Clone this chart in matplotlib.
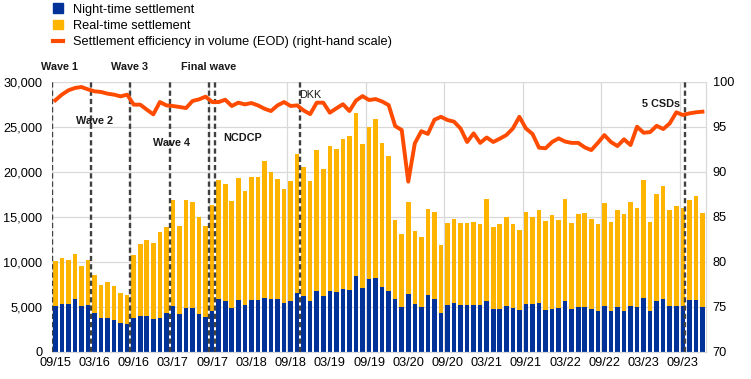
import matplotlib
matplotlib.use("Agg")
import matplotlib.pyplot as plt
import matplotlib.patches as mpatches
from matplotlib.lines import Line2D
import numpy as np
import pandas as pd

plt.rcParams["font.family"] = ["Liberation Sans", "DejaVu Sans"]

# ── data ────────────────────────────────────────────────────────────────────
months = pd.period_range("2015-09", "2023-12", freq="M")
month_labels = [m.strftime("%m/%y") for m in months]

night = [
    5070, 5330, 5300, 5890, 5110, 5220, 4330, 3780, 3780, 3560,
    3220, 3110, 3780, 4000, 4000, 3630, 3740, 4330, 5070, 4190,
    4850, 4850, 4150, 3820, 4520, 5850, 5630, 4850, 5740, 5190,
    5740, 5740, 5960, 5850, 5850, 5410, 5630, 6520, 6190, 5630,
    6740, 6190, 6740, 6630, 6960, 6850, 8410, 7070, 8080, 8190,
    7190, 6740, 5850, 4960, 6410, 5300, 4960, 6300, 5850, 4300,
    5190, 5410, 5190, 5190, 5190, 5190, 5630, 4740, 4740, 5070,
    4850, 4630, 5300, 5300, 5410, 4630, 4740, 4850, 5630, 4740,
    4960, 4960, 4740, 4520, 5070, 4520, 4960, 4520, 5070, 4960,
    5960, 4520, 5630, 5850, 5070, 5070, 5070, 5740, 5740, 4960,
]
realtime = [
    5000, 5110, 4890, 5000, 4450, 5000, 4190, 3670, 4000, 3770,
    3340, 3190, 7000, 7960, 8410, 8480, 9560, 9560, 11780, 9810,
    12000, 11780, 10810, 10150, 11780, 13230, 13000, 11890, 13560, 12660,
    13670, 13670, 15230, 14110, 13340, 12670, 13330, 15450, 14310, 13330,
    15670, 14110, 16110, 15890, 16670, 17110, 18110, 16010, 16880, 17660,
    16000, 15000, 8780, 8110, 10220, 8110, 7780, 9550, 9670, 7550,
    9110, 9330, 9110, 9110, 9220, 9000, 11330, 9110, 9450, 9890,
    9340, 8890, 10220, 9660, 10330, 9890, 10450, 9780, 11330, 9560,
    10340, 10450, 10000, 9670, 11450, 9890, 10780, 10780, 11560, 11000,
    13120, 9890, 11890, 12560, 10670, 11120, 10890, 11110, 11560, 10450,
]
efficiency = [
    97.93, 98.56, 99.04, 99.30, 99.41, 99.15, 98.93, 98.86, 98.67, 98.56,
    98.37, 98.56, 97.45, 97.45, 96.90, 96.37, 97.74, 97.37, 97.30, 97.19,
    97.07, 97.86, 98.04, 98.34, 97.74, 97.74, 98.00, 97.30, 97.67, 97.48,
    97.63, 97.37, 97.00, 96.74, 97.37, 97.74, 97.30, 97.37, 96.80, 96.40,
    97.67, 97.67, 96.56, 97.04, 97.50, 96.74, 97.90, 98.40, 97.96, 98.07,
    97.80, 97.40, 95.07, 94.63, 88.90, 93.15, 94.50, 94.20, 95.77, 96.10,
    95.74, 95.56, 94.80, 93.30, 94.26, 93.20, 93.80, 93.30, 93.67, 94.07,
    94.80, 96.10, 94.80, 94.20, 92.67, 92.60, 93.30, 93.70, 93.35, 93.20,
    93.20, 92.70, 92.40, 93.20, 94.07, 93.30, 92.85, 93.60, 92.96, 95.00,
    94.33, 94.40, 95.10, 94.74, 95.37, 96.60, 96.30, 96.48, 96.60, 96.67,
]

event_labels = ["Wave 1", "Wave 2", "Wave 3", "Wave 4", "Final wave", "NCDCP", "DKK", "5 CSDs"]
event_pos = [-0.45, 5.5, 11.5, 17.5, 23.5, 24.5, 37.5, 96.4]
# label placement (x in category units, y in left-axis units)
label_x = [0.6, 5.96, 11.3, 17.8, 23.45, 28.7, 37.35, 92.6]
label_y = [31630, 25660, 31630, 23220, 31630, 23740, 28520, 27520]
label_ha = ["center"] * 6 + ["left", "center"]
label_weight = ["bold"] * 6 + ["normal", "bold"]

BLUE = "#003299"
YELLOW = "#FFB400"
ORANGE = "#FF4B00"
GRID = "#d9d9d9"

# ── plot ────────────────────────────────────────────────────────────────────
fig = plt.figure(figsize=(7.51, 3.79), dpi=100)
ax = fig.add_axes([52 / 751, 1 - 351.7 / 379, 653.7 / 751, 270 / 379])
ax2 = ax.twinx()

x = np.arange(len(months))
night = np.array(night)
realtime = np.array(realtime)
ax.bar(x, night, width=0.7, color=BLUE, zorder=2)
ax.bar(x, realtime, bottom=night, width=0.7, color=YELLOW, zorder=2)

for pos in event_pos:
    ax.axvline(pos, color="#404040", lw=1.7, linestyle=(0, (2.2, 1.3)), zorder=3)
for lab, lx, ly, ha, fw in zip(event_labels, label_x, label_y, label_ha, label_weight):
    ax.text(lx, ly, lab, ha=ha, va="center", fontsize=7.8, fontweight=fw,
            color="#1a1a1a", clip_on=False, zorder=5)

ax2.plot(x, efficiency, color=ORANGE, lw=2.8, solid_joinstyle="round", zorder=4)

ax.set_xlim(-0.5, len(months) - 0.5)
ax.set_ylim(0, 30000)
ax.set_yticks(np.arange(0, 30001, 5000))
ax.set_yticklabels([f"{v:,}" for v in range(0, 30001, 5000)])
ax2.set_ylim(70, 100)
ax2.set_yticks(np.arange(70, 101, 5))

ax.set_xticks(x[::6])
ax.set_xticklabels(month_labels[::6])
ax.set_xticks(np.arange(-0.5, len(months), 12), minor=True)

ax.grid(axis="y", color=GRID, lw=0.9, zorder=0)
ax.grid(axis="x", which="minor", color=GRID, lw=0.9, zorder=0)
ax.set_axisbelow(True)

ax.tick_params(axis="both", which="both", length=0, labelsize=9.2)
ax.tick_params(axis="y", pad=7)
ax.tick_params(axis="x", pad=4)
ax2.tick_params(axis="y", length=0, labelsize=9.2, pad=5)

for a in (ax, ax2):
    for side in ("top", "left"):
        a.spines[side].set_visible(False)
    a.spines["right"].set_color(GRID)
    a.spines["bottom"].set_color(GRID)

handles = [
    mpatches.Patch(color=BLUE, label="Night-time settlement"),
    mpatches.Patch(color=YELLOW, label="Real-time settlement"),
    Line2D([0], [0], color=ORANGE, lw=3,
           label="Settlement efficiency in volume (EOD) (right-hand scale)"),
]
fig.legend(handles=handles, loc="upper left", bbox_to_anchor=(53 / 751, 1 - 3.5 / 379),
           frameon=False, fontsize=9.2, handlelength=0.75, handleheight=0.75,
           handletextpad=0.85, labelspacing=0.32, borderpad=0, borderaxespad=0)

fig.savefig("out.png", dpi=100)
